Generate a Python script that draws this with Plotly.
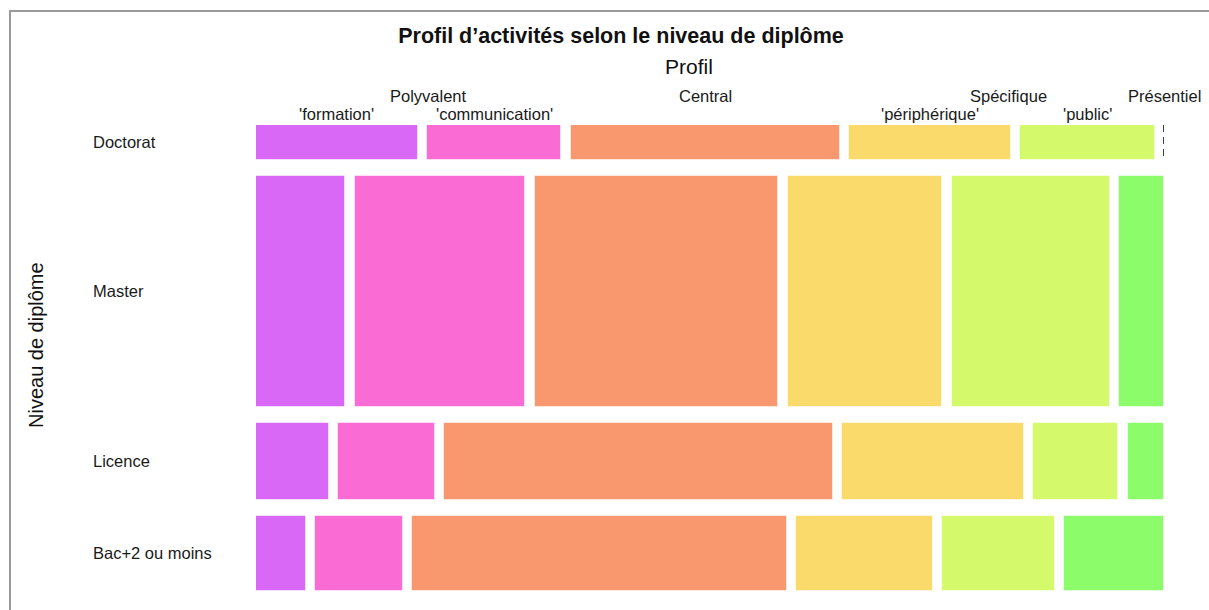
import plotly.graph_objects as go

# ---- data (counts read from the mosaic) ----
rows = ["Doctorat", "Master", "Licence", "Bac+2 ou moins"]
profiles = ["'formation'", "'communication'", "Central", "'périphérique'", "'public'", "Présentiel"]
formation = [6, 22, 6, 4]
communication = [5, 42, 8, 7]
central = [10, 60, 32, 30]
peripherique = [6, 38, 15, 11]
public = [5, 39, 7, 9]
presentiel = [0, 11, 3, 8]
colors = ["#DA68F7", "#FB6BD4", "#F9976E", "#F9DA6A", "#D4F96A", "#8DFC6A"]

series = [formation, communication, central, peripherique, public, presentiel]

# ---- page geometry ----
W, H = 1209, 610
L_PX, R_PX, T_PX, B_PX = 256, 1164, 125, 591
GX = 0.0108          # horizontal gap (fraction units)
row_tot = [sum(s[i] for s in series) for i in range(len(rows))]
GY = 14.7            # vertical gap (count units)

tops, heights, centers = [], [], []
y = 0.0
for t in row_tot:
    tops.append(y)
    heights.append(t)
    centers.append(y + t / 2)
    y += t + GY
y_max = y - GY

starts = [[0.0] * len(rows) for _ in series]
widths = [[0.0] * len(rows) for _ in series]
for i in range(len(rows)):
    x = 0.0
    for j, s in enumerate(series):
        w = s[i] / row_tot[i]
        starts[j][i] = x
        widths[j][i] = w
        x += w + GX
x_max = 1 + GX * (len(series) - 1)

fig = go.Figure()
for j, name in enumerate(profiles):
    xs, bs, ys, hs = [], [], [], []
    for i in range(len(rows)):
        if widths[j][i] > 0:
            xs.append(widths[j][i]); bs.append(starts[j][i])
            ys.append(centers[i]); hs.append(heights[i])
        else:
            fig.add_trace(go.Scatter(
                x=[starts[j][i], starts[j][i]], y=[tops[i], tops[i] + heights[i]],
                mode="lines", line=dict(color="black", width=1.5, dash="7px,5px"),
                showlegend=False, hoverinfo="skip"))
    fig.add_trace(go.Bar(
        orientation="h", x=xs, base=bs, y=ys, width=hs, name=name,
        marker=dict(color=colors[j], line=dict(color="rgba(255,255,255,0.55)", width=1)),
        showlegend=False))

FAM = "Liberation Sans, Arial, sans-serif"
annotations = []
font_lbl = dict(family=FAM, size=16.5, color="#1a1a1a")
for i, r in enumerate(rows):
    annotations.append(dict(text=r, xref="paper", x=(91 - L_PX) / (R_PX - L_PX), xanchor="left",
                            yref="y", y=centers[i], yanchor="middle", showarrow=False, font=font_lbl))


def py(px):
    return (B_PX - px) / (B_PX - T_PX)


for j, name in enumerate(profiles):
    if name in ("Central", "Présentiel"):
        continue
    cx = starts[j][0] + widths[j][0] / 2
    annotations.append(dict(text=name, xref="x", x=cx, xanchor="center", yref="paper", y=py(114),
                            yanchor="middle", showarrow=False, font=font_lbl))
xc_poly = (starts[0][0] + widths[0][0] + starts[1][0]) / 2
xc_spec = (starts[3][0] + widths[3][0] + starts[4][0]) / 2
xc_cent = starts[2][0] + widths[2][0] / 2
xc_pres = starts[5][0]
for txt, xc, sh in [("Polyvalent", xc_poly, 6), ("Central", xc_cent, 0),
                    ("Spécifique", xc_spec, -7), ("Présentiel", xc_pres, 0)]:
    annotations.append(dict(text=txt, xref="x", x=xc, xanchor="center", xshift=sh, yref="paper", y=py(96),
                            yanchor="middle", showarrow=False, font=font_lbl))
annotations.append(dict(text="Profil", xref="paper", x=(689 - L_PX) / (R_PX - L_PX), xanchor="center",
                        yref="paper", y=py(67), yanchor="middle", showarrow=False,
                        font=dict(family=FAM, size=21, color="#111")))
annotations.append(dict(text="Niveau de diplôme", xref="paper", x=(36 - L_PX) / (R_PX - L_PX), xanchor="center",
                        yref="paper", y=py(345), yanchor="middle", textangle=-90, showarrow=False,
                        font=dict(family=FAM, size=20, color="#111")))

fig.update_layout(
    width=W, height=H,
    margin=dict(l=L_PX, r=W - R_PX, t=T_PX, b=H - B_PX),
    paper_bgcolor="white", plot_bgcolor="white",
    barmode="overlay", bargap=0,
    title=dict(text="<b>Profil d’activités selon le niveau de diplôme</b>", xref="container", x=621 / W,
               xanchor="center", yref="container", y=1 - 35 / H, yanchor="middle",
               font=dict(family=FAM, size=21.5, color="#111")),
    xaxis=dict(range=[0, x_max], visible=False, fixedrange=True),
    yaxis=dict(range=[y_max, 0], visible=False, fixedrange=True),
    annotations=annotations,
    shapes=[dict(type="rect", xref="paper", yref="paper",
                 x0=(10 - L_PX) / (R_PX - L_PX), x1=1.3, y0=-0.3, y1=py(11),
                 line=dict(color="#9A9A9A", width=2), layer="below")],
)

fig.write_html("out.html", config={"displayModeBar": False},
               post_script="document.body.style.margin='0';document.body.style.overflow='hidden';")
